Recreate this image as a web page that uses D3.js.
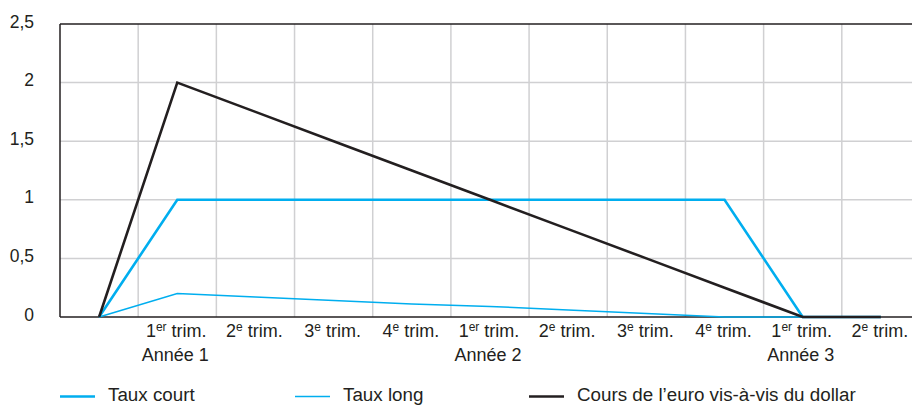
<!DOCTYPE html>
<html>
<head>
<meta charset="utf-8">
<script src="https://cdn.jsdelivr.net/npm/d3@7"></script>
<style>
  html, body { margin: 0; padding: 0; background: #fff; }
  svg { display: block; }
  text { font-family: "Liberation Sans", Arial, sans-serif; fill: #231f20; }
</style>
</head>
<body>
<svg id="chart" width="912" height="405"></svg>
<script>
// ---- Data ----
const quarterNums = ["", "1", "2", "3", "4", "1", "2", "3", "4", "1", "2"];
const quarterSups = ["", "er", "e", "e", "e", "er", "e", "e", "e", "er", "e"];
const yearLabels  = ["", "Année 1", "", "", "", "Année 2", "", "", "", "Année 3", ""];
const tauxCourt   = [0, 1, 1, 1, 1, 1, 1, 1, 1, 0, 0];
const tauxLong    = [0, 0.2, 0.17, 0.14, 0.11, 0.09, 0.06, 0.03, 0, 0, 0];
const coursEuro   = [0, 2, 1.75, 1.5, 1.25, 1, 0.75, 0.5, 0.25, 0, 0];
const yTicks      = [0, 0.5, 1, 1.5, 2, 2.5];
const seriesNames = ["Taux court", "Taux long", "Cours de l’euro vis-à-vis du dollar"];

// ---- Layout ----
const svg = d3.select("#chart");
const plotLeft = 60, plotTop = 24, plotBottom = 317, bandW = 78.18, plotRight = 912;
const idx = d3.range(quarterNums.length);
const x = d3.scaleBand().domain(idx).range([plotLeft, plotLeft + bandW * idx.length]).padding(0);
const y = d3.scaleLinear().domain([0, 2.5]).range([plotBottom, plotTop]);
const fmt = v => String(v).replace(".", ",");

// Gridlines
const g = svg.append("g");
g.selectAll("line.hg").data(yTicks.filter(t => t > 0 && t < 2.5)).join("line")
  .attr("x1", plotLeft).attr("x2", plotRight).attr("y1", d => y(d)).attr("y2", d => y(d))
  .attr("stroke", "#d0d0d2").attr("stroke-width", 1.5);
g.selectAll("line.vg").data(idx.slice(1)).join("line")
  .attr("x1", d => x(d)).attr("x2", d => x(d)).attr("y1", plotTop).attr("y2", plotBottom)
  .attr("stroke", "#d0d0d2").attr("stroke-width", 1.5);

// Top border
svg.append("line").attr("x1", plotLeft).attr("x2", plotRight).attr("y1", y(2.5)).attr("y2", y(2.5))
  .attr("stroke", "#231f20").attr("stroke-width", 1.5);

// Axes lines
svg.append("line").attr("x1", plotLeft).attr("x2", plotRight).attr("y1", plotBottom).attr("y2", plotBottom)
  .attr("stroke", "#231f20").attr("stroke-width", 1.5);
svg.append("line").attr("x1", plotLeft).attr("x2", plotLeft).attr("y1", plotTop).attr("y2", plotBottom)
  .attr("stroke", "#231f20").attr("stroke-width", 1.5);

// Y tick labels
svg.append("g").selectAll("text").data(yTicks).join("text")
  .attr("x", 34).attr("y", d => y(d)).attr("dy", "0.2em")
  .attr("text-anchor", "end").attr("font-size", 17.5).text(fmt);

// X labels
const xl = svg.append("g").selectAll("text").data(idx.filter(i => quarterNums[i] !== "")).join("text")
  .attr("x", i => x(i) + x.bandwidth() / 2 - 1).attr("y", 337)
  .attr("text-anchor", "middle").attr("font-size", 18);
xl.append("tspan").text(i => quarterNums[i]);
xl.append("tspan").attr("font-size", 12).attr("dy", -6.5).text(i => quarterSups[i]);
xl.append("tspan").attr("dy", 6.5).text(" trim.");

svg.append("g").selectAll("text").data(idx.filter(i => yearLabels[i] !== "")).join("text")
  .attr("x", i => x(i) + x.bandwidth() / 2 - 2).attr("y", 361)
  .attr("text-anchor", "middle").attr("font-size", 18).text(i => yearLabels[i]);

// Lines
const line = d3.line().x((d, i) => x(i) + x.bandwidth() / 2).y(d => y(d));
const series = [
  { data: tauxLong, color: "#00aeef", w: 1.5 },
  { data: tauxCourt, color: "#00aeef", w: 2.6 },
  { data: coursEuro, color: "#231f20", w: 2.6 }
];
svg.append("g").selectAll("path").data(series).join("path")
  .attr("d", d => line(d.data)).attr("fill", "none")
  .attr("stroke", d => d.color).attr("stroke-width", d => d.w)
  .attr("stroke-linejoin", "miter");

// Legend
const legendItems = [
  { name: seriesNames[0], color: "#00aeef", w: 2.6, x: 60 },
  { name: seriesNames[1], color: "#00aeef", w: 1.6, x: 295 },
  { name: seriesNames[2], color: "#231f20", w: 2.6, x: 529 }
];
const lg = svg.append("g").selectAll("g").data(legendItems).join("g");
lg.append("line").attr("x1", d => d.x).attr("x2", d => d.x + 35)
  .attr("y1", 396.5).attr("y2", 396.5).attr("stroke", d => d.color).attr("stroke-width", d => d.w);
lg.append("text").attr("x", d => d.x + 48).attr("y", 401.3).attr("font-size", 18.8).text(d => d.name);
</script>
</body>
</html>
